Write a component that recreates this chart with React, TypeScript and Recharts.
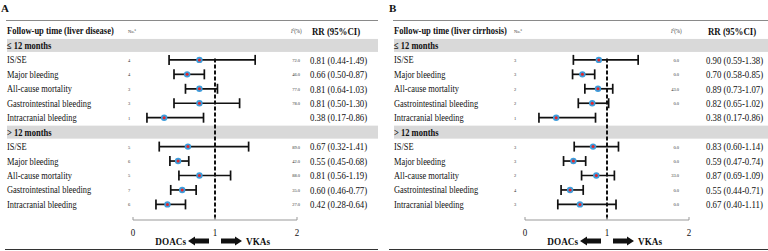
import React from 'react';
import { ScatterChart, Scatter, ErrorBar, XAxis, YAxis, ReferenceArea, ReferenceLine } from 'recharts';

const outcomes = ['IS/SE', 'Major bleeding', 'All-cause mortality', 'Gastrointestinal bleeding', 'Intracranial bleeding'];
const periods = ['≤ 12 months', '> 12 months'];
const axisTicks = [0, 1, 2];

// first five = ≤ 12 months, last five = > 12 months
const diseaseRR = [0.81, 0.66, 0.81, 0.81, 0.38, 0.67, 0.55, 0.81, 0.60, 0.42];
const diseaseLow = [0.44, 0.50, 0.64, 0.50, 0.17, 0.32, 0.45, 0.56, 0.46, 0.28];
const diseaseHigh = [1.49, 0.87, 1.03, 1.30, 0.86, 1.41, 0.68, 1.19, 0.77, 0.64];
const diseaseStudies = [4, 4, 3, 3, 1, 5, 6, 5, 7, 6];
const diseaseI2 = [72.0, 46.0, 77.0, 78.0, null, 89.0, 42.0, 88.0, 35.0, 27.0];

const cirrhosisRR = [0.90, 0.70, 0.89, 0.82, 0.38, 0.83, 0.59, 0.87, 0.55, 0.67];
const cirrhosisLow = [0.59, 0.58, 0.73, 0.65, 0.17, 0.60, 0.47, 0.69, 0.44, 0.40];
const cirrhosisHigh = [1.38, 0.85, 1.07, 1.02, 0.86, 1.14, 0.74, 1.09, 0.71, 1.11];
const cirrhosisStudies = [3, 3, 2, 2, 1, 3, 3, 2, 4, 3];
const cirrhosisI2 = [0.0, 0.0, 43.0, 0.0, null, 0.0, 0.0, 33.0, 0.0, 0.0];

const SERIF = '"Liberation Serif", "Times New Roman", serif';
const INK = '#111';

type Row = { kind: 'header' | 'group' | 'item'; label: string; rr?: number; lo?: number; hi?: number; n?: number; i2?: number | null };

function buildRows(rr: number[], lo: number[], hi: number[], n: number[], i2: (number | null)[]): Row[] {
  const rows: Row[] = [{ kind: 'header', label: '' }];
  periods.forEach((p, g) => {
    rows.push({ kind: 'group', label: p });
    outcomes.forEach((o, k) => {
      const j = g * outcomes.length + k;
      rows.push({ kind: 'item', label: o, rr: rr[j], lo: lo[j], hi: hi[j], n: n[j], i2: i2[j] });
    });
  });
  return rows;
}

function T({ x, y, children, size = 10.5, bold = false, sx = 0.8, anchor = 'start', fill = INK }: any) {
  return (
    <text transform={`translate(${x},${y}) scale(${sx},1)`} fontFamily={SERIF} fontSize={size}
      fontWeight={bold ? 700 : 400} textAnchor={anchor} fill={fill}>
      {children}
    </text>
  );
}

const fmt = (v: number) => v.toFixed(2);

function Panel({ letter, title, rows, cfg }: any) {
  const points = rows
    .map((r: Row, i: number) => ({ r, i }))
    .filter(({ r }: any) => r.kind === 'item')
    .map(({ r, i }: any) => ({ x: r.rr, y: i, err: [r.rr - r.lo, r.hi - r.rr] }));

  const rowTick = (p: any) => {
    const i = p.payload.value;
    const r: Row = rows[i];
    const y = p.y;
    if (r.kind === 'header') {
      return (
        <g>
          <T x={cfg.left} y={y + 3.5} bold sx={0.81}>{title}</T>
          <T x={cfg.nX} y={y + 2} size={5} sx={0.9} fill="#333">No.<tspan fontSize={3.5} dy={-1.5}>a</tspan></T>
          <T x={cfg.i2X} y={y + 2} size={5.5} sx={0.9} fill="#333"><tspan fontStyle="italic">I</tspan><tspan fontSize={3.5} dy={-2}>2</tspan><tspan dy={2}>(%)</tspan></T>
          <T x={cfg.rrX + 2} y={y + 3.8} size={11} bold sx={0.8}>RR (95%CI)</T>
        </g>
      );
    }
    if (r.kind === 'group') {
      return <T x={cfg.left} y={y + 3.5} bold sx={0.81}>{r.label}</T>;
    }
    return (
      <g>
        <T x={cfg.left} y={y + 3.5}>{r.label}</T>
        <T x={cfg.nX} y={y + 2} size={5} sx={0.9} fill="#333">{r.n}</T>
        {r.i2 != null && <T x={cfg.i2R} y={y + 2} size={5} sx={0.9} anchor="end" fill="#333">{r.i2.toFixed(1)}</T>}
        <T x={cfg.rrX} y={y + 3.8} size={11} sx={0.8}>{`${fmt(r.rr!)} (${fmt(r.lo!)}-${fmt(r.hi!)})`}</T>
      </g>
    );
  };

  const xTick = (p: any) => (
    <g>
      <line x1={p.x} x2={p.x} y1={p.y} y2={p.y - 3} stroke="#999" strokeWidth={1} />
      <T x={p.x} y={p.y + 15.5} size={10} sx={0.9} anchor="middle">{p.payload.value}</T>
    </g>
  );

  const arrows = (props: any) => {
    const vb = props.viewBox;
    const cx = vb.x + vb.width / 2;
    const c = vb.y + 21;
    const left = [[cx - 27, c], [cx - 20, c - 4.5], [cx - 20, c - 2.5], [cx - 6, c - 2.5], [cx - 6, c + 2.5], [cx - 20, c + 2.5], [cx - 20, c + 4.5]];
    const right = left.map(([px, py]) => [2 * cx - px, py]);
    return (
      <g>
        <T x={cx - 29} y={c + 3.5} size={10} bold sx={0.92} anchor="end">DOACs</T>
        <polygon points={left.map((q) => q.join(',')).join(' ')} fill={INK} />
        <polygon points={right.map((q) => q.join(',')).join(' ')} fill={INK} />
        <T x={cx + 31} y={c + 3.5} size={10} bold sx={0.92}>VKAs</T>
      </g>
    );
  };

  const band = (props: any) => (
    <rect x={cfg.left} y={props.y} width={cfg.lineRight - cfg.left} height={props.height} fill="#d9d9d9" />
  );

  return (
    <div style={{ position: 'relative', width: 384, height: 251 }}>
      <div style={{ position: 'absolute', left: cfg.letterX, top: 2, fontFamily: SERIF, fontWeight: 700, fontSize: 11, lineHeight: '12px', color: INK }}>{letter}</div>
      <div style={{ position: 'absolute', left: cfg.left - 1, top: 19.5, width: cfg.lineRight - cfg.left + 1, height: 1, background: '#8a8a8a' }} />
      <div style={{ position: 'absolute', left: cfg.bottomLeft, top: 248.5, width: cfg.lineRight - cfg.bottomLeft, height: 1.5, background: '#333' }} />
      <ScatterChart width={384} height={251} margin={{ top: 20, right: 384 - cfg.plotRight, bottom: 0, left: 0 }}
        style={{ position: 'absolute', left: 0, top: 0 }}>
        <ReferenceArea y1={0.55} y2={1.45} ifOverflow="visible" shape={band} />
        <ReferenceArea y1={6.55} y2={7.45} ifOverflow="visible" shape={band} />
        <XAxis type="number" dataKey="x" domain={[0, 2]} ticks={axisTicks} allowDataOverflow
          axisLine={{ stroke: '#999', strokeWidth: 1 }} tickLine={false} tickSize={0} tickMargin={0}
          height={31} tick={xTick} label={{ content: arrows }} />
        <YAxis type="number" dataKey="y" domain={[-0.76, 13.08]} reversed allowDataOverflow
          ticks={rows.map((_: Row, i: number) => i)} interval={0} axisLine={false} tickLine={false}
          tickSize={0} tickMargin={0} width={cfg.plotLeft} tick={rowTick} />
        <ReferenceLine segment={[{ x: 1, y: 1.9 }, { x: 1, y: 13.08 }]} stroke={INK} strokeWidth={2} strokeDasharray="4 2" ifOverflow="visible" />
        <Scatter data={points} isAnimationActive={false}
          shape={(p: any) => (
            <g>
              <circle cx={p.cx} cy={p.cy} r={3.2} fill="#3d9ddc" />
              <circle cx={p.cx} cy={p.cy} r={1.5} fill="#e3262c" />
            </g>
          )}>
          <ErrorBar dataKey="err" direction="x" width={5} stroke={INK} strokeWidth={1.7} />
        </Scatter>
      </ScatterChart>
    </div>
  );
}

const cfgA = { letterX: 1, left: 7, lineRight: 378, bottomLeft: 5, nX: 128, plotLeft: 133, plotRight: 297, i2X: 291, i2R: 300, rrX: 310 };
const cfgB = { letterX: 5, left: 10, lineRight: 384, bottomLeft: 5, nX: 130, plotLeft: 141, plotRight: 305, i2X: 287, i2R: 295, rrX: 322 };

export default function App() {
  return (
    <div style={{ display: 'flex', width: 768, height: 251, background: '#fff' }}>
      <style>{'body{margin:0;background:#fff}'}</style>
      <Panel letter="A" title="Follow-up time (liver disease)" cfg={cfgA}
        rows={buildRows(diseaseRR, diseaseLow, diseaseHigh, diseaseStudies, diseaseI2)} />
      <Panel letter="B" title="Follow-up time (liver cirrhosis)" cfg={cfgB}
        rows={buildRows(cirrhosisRR, cirrhosisLow, cirrhosisHigh, cirrhosisStudies, cirrhosisI2)} />
    </div>
  );
}
